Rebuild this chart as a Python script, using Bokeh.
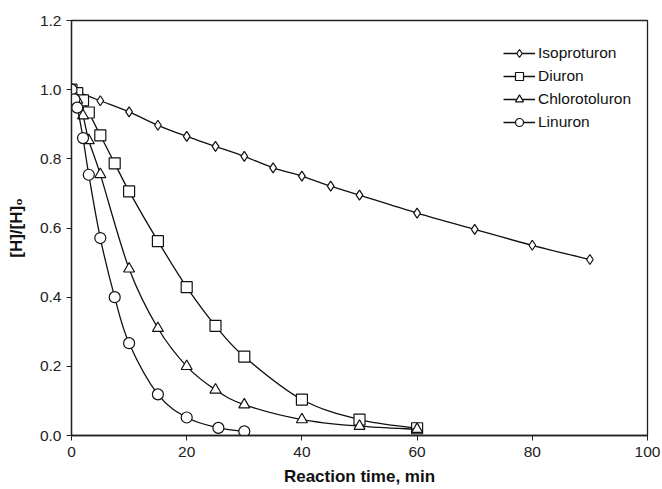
from bokeh.plotting import figure
from bokeh.models import Range1d, FixedTicker, PrintfTickFormatter, Legend, LegendItem
from bokeh.embed import file_html
from bokeh.resources import INLINE

# Data
iso_t = [0, 5, 10, 15, 20, 25, 30, 35, 40, 45, 50, 60, 70, 80, 90]
iso_c = [1.0, 0.968, 0.936, 0.897, 0.865, 0.836, 0.807, 0.774, 0.750, 0.721, 0.695, 0.643, 0.596, 0.550, 0.509]

diu_t = [0, 1, 2, 3, 5, 7.5, 10, 15, 20, 25, 30, 40, 50, 60]
diu_c = [1.0, 0.99, 0.969, 0.934, 0.868, 0.787, 0.706, 0.562, 0.429, 0.317, 0.228, 0.104, 0.046, 0.021]

chl_t = [0, 1, 2, 3, 5, 10, 15, 20, 25, 30, 40, 50, 60]
chl_c = [1.0, 0.97, 0.925, 0.853, 0.755, 0.482, 0.310, 0.200, 0.132, 0.089, 0.046, 0.027, 0.018]

lin_t = [0, 0.5, 1, 2, 3, 5, 7.5, 10, 15, 20, 25.5, 30]
lin_c = [1.0, 0.972, 0.948, 0.86, 0.754, 0.571, 0.40, 0.267, 0.119, 0.052, 0.022, 0.012]

names = ["Isoproturon", "Diuron", "Chlorotoluron", "Linuron"]
markers = ["diamond", "square", "triangle", "circle"]
sizes = [10, 11, 11, 11]

x_ticks = [0, 20, 40, 60, 80, 100]
y_ticks = [0.0, 0.2, 0.4, 0.6, 0.8, 1.0, 1.2]

FONT = "Liberation Sans"

p = figure(width=662, height=489, output_backend="svg", toolbar_location=None,
           x_range=Range1d(0, 100), y_range=Range1d(0, 1.2),
           min_border_left=71, min_border_right=15, min_border_top=20, min_border_bottom=54)
p.grid.visible = False
p.outline_line_color = "#222222"
p.outline_line_width = 1.3
p.background_fill_color = "white"
p.border_fill_color = "white"

for ax, ticks in ((p.xaxis[0], x_ticks), (p.yaxis[0], y_ticks)):
    ax.ticker = FixedTicker(ticks=ticks)
    ax.minor_tick_line_color = None
    ax.major_tick_out = 5
    ax.major_tick_in = 0
    ax.axis_line_color = "#222222"
    ax.axis_line_width = 1.3
    ax.major_tick_line_color = "#222222"
    ax.major_label_text_font = FONT
    ax.major_label_text_font_size = "15.5px"
    ax.major_label_text_color = "#222222"
    ax.axis_label_text_font = FONT
    ax.axis_label_text_font_style = "bold"
    ax.axis_label_text_font_size = "17px"
    ax.axis_label_text_color = "#111111"

p.yaxis.formatter = PrintfTickFormatter(format="%.1f")
p.xaxis.axis_label = "Reaction time, min"
p.yaxis.axis_label = "[H]/[H]\u2080"
p.xaxis.axis_label_standoff = 7
p.yaxis.axis_label_standoff = 11
p.xaxis.major_label_standoff = 6
p.yaxis.major_label_standoff = 5


def bezier_parts(xs, ys):
    n = len(xs)
    x0, y0, x1, y1, cx0, cy0, cx1, cy1 = [], [], [], [], [], [], [], []
    for i in range(n - 1):
        xm = xs[i - 1] if i > 0 else xs[i]
        ym = ys[i - 1] if i > 0 else ys[i]
        xp = xs[i + 2] if i + 2 < n else xs[i + 1]
        yp = ys[i + 2] if i + 2 < n else ys[i + 1]
        x0.append(xs[i]); y0.append(ys[i])
        x1.append(xs[i + 1]); y1.append(ys[i + 1])
        cx0.append(xs[i] + (xs[i + 1] - xm) / 6.0)
        cy0.append(ys[i] + (ys[i + 1] - ym) / 6.0)
        cx1.append(xs[i + 1] - (xp - xs[i]) / 6.0)
        cy1.append(ys[i + 1] - (yp - ys[i]) / 6.0)
    return dict(x0=x0, y0=y0, x1=x1, y1=y1, cx0=cx0, cy0=cy0, cx1=cx1, cy1=cy1)


series = [(iso_t, iso_c), (diu_t, diu_c), (chl_t, chl_c), (lin_t, lin_c)]
items = []
for (t, c), name, m, s in zip(series, names, markers, sizes):
    b = bezier_parts(t, c)
    lr = p.bezier(x0=b["x0"], y0=b["y0"], x1=b["x1"], y1=b["y1"],
                  cx0=b["cx0"], cy0=b["cy0"], cx1=b["cx1"], cy1=b["cy1"],
                  line_color="#111111", line_width=1.3)
    sr = p.scatter(t, c, marker=m, size=s, fill_color="white",
                   line_color="#111111", line_width=1.2)
    items.append(LegendItem(label=name, renderers=[lr, sr]))

legend = Legend(items=items, location=(432, 303), padding=0, margin=0,
                spacing=3, label_height=20, glyph_height=20, glyph_width=32,
                label_standoff=3, border_line_color=None, background_fill_alpha=0,
                label_text_font=FONT, label_text_font_size="15.5px",
                label_text_color="#111111")
p.add_layout(legend, "center")

open("out.html", "w").write(file_html(p, INLINE))
